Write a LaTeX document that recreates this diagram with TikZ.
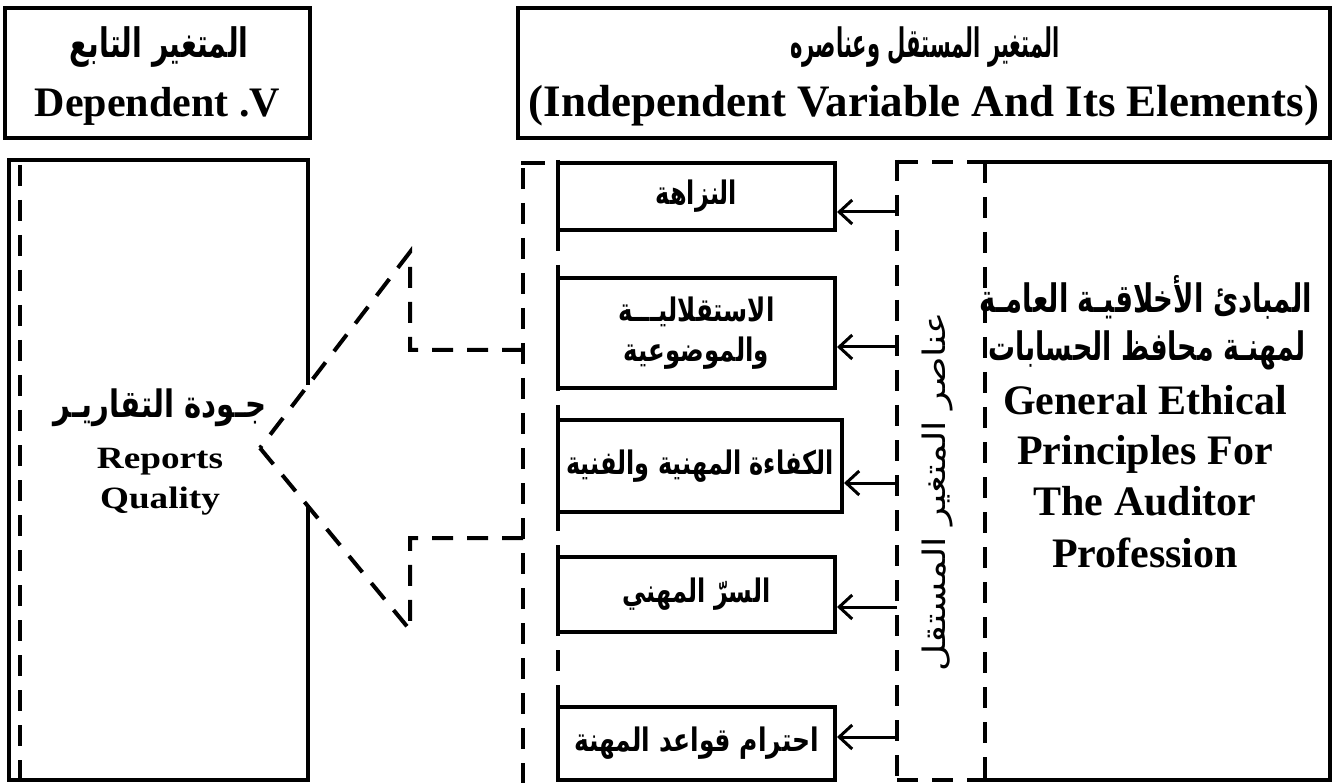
\documentclass[tikz,border=0pt]{standalone}
\usepackage{fontspec}
\usepackage{graphicx}
\setmainfont{Liberation Serif}
\newfontfamily\arabicfont[Script=Arabic]{DejaVu Sans}
\TeXXeTstate=1
\usetikzlibrary{arrows.meta}

% Arabic run stretched to the proportions of the heading face
\newcommand\artx[3]{\scalebox{#1}[#2]{#3}}

\tikzset{
  frame/.style={draw, line width=4pt},
  dashln/.style={line width=4pt, dash pattern=on 21pt off 14pt},
  elembox/.style={draw, line width=4pt, inner sep=0pt, align=center,
    minimum width=277pt,
    font=\arabicfont\bfseries\fontsize{24}{40}\selectfont},
  lat/.style={font=\bfseries\fontsize{42}{50}\selectfont, inner sep=0pt, anchor=base},
  arb/.style={font=\arabicfont\bfseries\fontsize{29}{40}\selectfont, inner sep=0pt},
  arr/.style={line width=3pt, -{Straight Barb[length=13pt,width=24pt,line width=3pt]}},
}

\begin{document}
\begin{tikzpicture}[x=1pt,y=-1pt]
\useasboundingbox (0,0) rectangle (1336,783);

% header boxes
\draw[frame] (5,8) rectangle (310,138);
\node[arb] (hdepar) at (159,47) {\artx{0.98}{1.4}{\beginR المتغير التابع\endR}};
\node[lat] (hdepen) at (157.5,117) {Dependent .V};

\draw[frame] (518,8) rectangle (1330,138);
\node[arb, font=\arabicfont\bfseries\fontsize{27}{40}\selectfont] (hindar) at (925,47) {\artx{0.78}{1.5}{\beginR المتغير المستقل وعناصره\endR}};
\node[lat, font=\bfseries\fontsize{45}{50}\selectfont] (hinden) at (924,117) {(Independent Variable And Its Elements)};

% dependent variable box, open where the links enter
\draw[line width=3.5pt] (308,385) -- (308,160) -- (9,160) -- (9,780) -- (308,780) -- (308,507);
\draw[dashln] (20,165) -- (20,783);
\node[arb, font=\arabicfont\bfseries\fontsize{27}{30}\selectfont] (qar) at (160,408) {\artx{1.08}{1.4}{\beginR جـودة التقاريـر\endR}};
\node[inner sep=0pt, anchor=base] (qen1) at (160,468) {\scalebox{1.2}[1]{\bfseries\fontsize{31}{36}\selectfont Reports}};
\node[inner sep=0pt, anchor=base] (qen2) at (160,508) {\scalebox{1.2}[1]{\bfseries\fontsize{31}{36}\selectfont Quality}};

% links from the elements group to the dependent variable
\coordinate (lu0) at (523,350);
\coordinate (lu1) at (410,350);
\coordinate (lu2) at (410,252);
\coordinate (apex) at (260,448);
\coordinate (ll2) at (410,630);
\coordinate (ll1) at (410,538);
\coordinate (ll0) at (523,538);
\draw[dashln] (lu0) -- (lu1) -- (lu2) -- (apex);
\draw[dashln] (apex) -- (ll2) -- (ll1) -- (ll0);

% elements group frame
\draw[dashln] (523,168) -- (523,783);
\draw[line width=4pt] (521,163) -- (545,163);
\draw[dashln] (558,160) -- (558,783);
\draw[dashln] (897,160) -- (897,783);
\draw[dashln] (897,162) -- (985,162);
\draw[dashln] (897,780) -- (985,780);
\draw[dashln] (985,162) -- (985,783);

% element boxes
\node[elembox, minimum height=67pt] (e1) at (696.5,196.5) {\artx{1}{1.35}{\beginR النزاهة\endR}};
\node[elembox, minimum height=110pt] (e2) at (696.5,333) {\artx{1.02}{1.35}{\beginR الاستقلاليـــة\endR}\\\artx{1.02}{1.35}{\beginR والموضوعية\endR}};
\node[elembox, minimum width=284pt, minimum height=92pt] (e3) at (700,466) {\artx{1}{1.35}{\beginR الكفاءة المهنية والفنية\endR}};
\node[elembox, minimum height=75pt] (e4) at (696.5,594.5) {\artx{1}{1.35}{\beginR السرّ المهني\endR}};
\node[elembox, minimum height=73pt] (e5) at (696.5,743.5) {\artx{1.04}{1.35}{\beginR احترام قواعد المهنة\endR}};

% arrows from the elements rail
\coordinate (s1) at (897,212);
\coordinate (s2) at (897,347);
\coordinate (s3) at (897,483);
\coordinate (s4) at (897,607);
\coordinate (s5) at (897,737);
\draw[arr] (s1) -- (s1 -| e1.east);
\draw[arr] (s2) -- (s2 -| e2.east);
\draw[arr] (s3) -- (s3 -| e3.east);
\draw[arr] (s4) -- (s4 -| e4.east);
\draw[arr] (s5) -- (s5 -| e5.east);

\node[rotate=90, inner sep=0pt, font=\arabicfont\fontsize{31}{34}\selectfont] (rail) at (937,492) {\artx{1.2}{1}{\beginR عناصر المتغير المستقل\endR}};

% independent variable box
\draw[line width=4pt] (985,162) -- (1330,162) -- (1330,780) -- (985,780);
\node[arb, font=\arabicfont\bfseries\fontsize{28}{40}\selectfont] (pr1) at (1146,297) {\artx{0.98}{1.4}{\beginR المبادئ الأخلاقيـة العامـة\endR}};
\node[arb, font=\arabicfont\bfseries\fontsize{28}{40}\selectfont] (pr2) at (1147,350) {\artx{0.96}{1.4}{\beginR لمهنـة محافظ الحسابات\endR}};
\node[lat] (pe1) at (1145,414) {General Ethical};
\node[lat] (pe2) at (1145,464) {Principles For};
\node[lat] (pe3) at (1145,515) {The Auditor};
\node[lat] (pe4) at (1145,567) {Profession};
\end{tikzpicture}
\end{document}
